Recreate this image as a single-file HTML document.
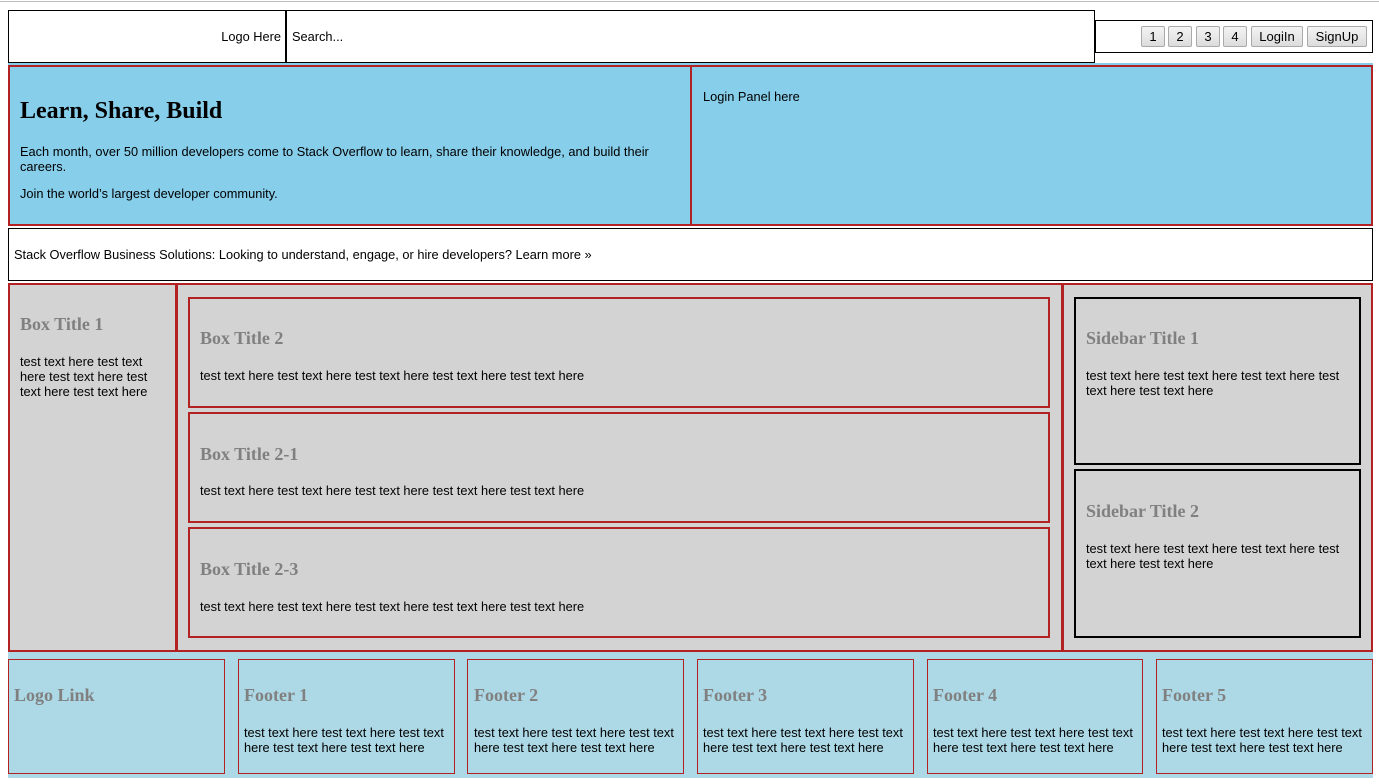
<!DOCTYPE html>
<html><head><meta charset="utf-8"><style>
body{margin:0;width:1379px;height:784px;position:relative;background:#fff;font-family:"Liberation Sans",Arial,sans-serif;font-size:12.8px;color:#000;overflow:hidden}
div{position:absolute;box-sizing:border-box}
.t{font-family:"Liberation Serif",serif;font-weight:bold;font-size:18px;color:#808080;position:absolute}
.p{position:absolute;line-height:15px}
.btn{top:26px;height:21px;border:1px solid #aaa;border-radius:2px;background:linear-gradient(#f4f4f4,#dcdcdc);font-size:13px;text-align:center;line-height:19px}
.g{background:#d3d3d3}
.rb{border:2px solid #b22222}
.fb{border:1px solid #b22222;top:659px;height:115px;width:217px}
</style></head><body>
<div style="left:0;top:1px;width:1379px;height:1px;background:#bbb"></div>
<div style="left:8px;top:10px;width:279px;height:53px;border:1px solid #000;border-right:2px solid #000"><span class="p" style="right:4px;top:18px">Logo Here</span></div>
<div style="left:286px;top:10px;width:809px;height:53px;border:1px solid #000;border-left:none"><span class="p" style="left:6px;top:18px">Search...</span></div>
<div style="left:1095px;top:20px;width:278px;height:33px;border:1px solid #000"></div>
<div class="btn" style="left:1141px;width:24px">1</div>
<div class="btn" style="left:1168px;width:24px">2</div>
<div class="btn" style="left:1196px;width:24px">3</div>
<div class="btn" style="left:1223px;width:24px">4</div>
<div class="btn" style="left:1251px;width:52px">LogiIn</div>
<div class="btn" style="left:1307px;width:60px">SignUp</div>
<div style="left:8px;top:63px;width:1365px;height:163px;background:#87ceeb"></div>
<div class="rb" style="left:8px;top:65px;width:684px;height:161px;background:#87ceeb">
<span style="position:absolute;left:10px;top:31px;font-family:'Liberation Serif',serif;font-weight:bold;font-size:24px">Learn, Share, Build</span>
<span class="p" style="left:10px;top:77px;width:650px">Each month, over 50 million developers come to Stack Overflow to learn, share their knowledge, and build their careers.</span>
<span class="p" style="left:10px;top:119px">Join the world’s largest developer community.</span></div>
<div class="rb" style="left:690px;top:65px;width:683px;height:161px;background:#87ceeb"><span class="p" style="left:11px;top:22px">Login Panel here</span></div>
<div style="left:8px;top:228px;width:1365px;height:53px;border:1px solid #000"><span class="p" style="left:5px;top:18px">Stack Overflow Business Solutions: Looking to understand, engage, or hire developers? Learn more »</span></div>
<div class="rb g" style="left:8px;top:283px;width:170px;height:369px;border-width:2px 3px 2px 2px"><span class="t" style="left:10px;top:29px">Box Title 1</span><span class="p" style="left:10px;top:69px;width:140px">test text here test text here test text here test text here test text here</span></div>
<div class="rb g" style="left:176px;top:283px;width:888px;height:369px;border-width:2px 3px 2px 2px"></div>
<div class="rb g" style="left:1062px;top:283px;width:311px;height:369px"></div>
<div class="rb" style="left:188px;top:297px;width:862px;height:111px"><span class="t" style="left:10px;top:29px">Box Title 2</span><span class="p" style="left:10px;top:69px">test text here test text here test text here test text here test text here</span></div>
<div class="rb" style="left:188px;top:412px;width:862px;height:111px"><span class="t" style="left:10px;top:30px">Box Title 2-1</span><span class="p" style="left:10px;top:69px">test text here test text here test text here test text here test text here</span></div>
<div class="rb" style="left:188px;top:527px;width:862px;height:111px"><span class="t" style="left:10px;top:30px">Box Title 2-3</span><span class="p" style="left:10px;top:70px">test text here test text here test text here test text here test text here</span></div>
<div style="left:1074px;top:297px;width:287px;height:168px;border:2px solid #000"><span class="t" style="left:10px;top:29px">Sidebar Title 1</span><span class="p" style="left:10px;top:69px;width:265px">test text here test text here test text here test text here test text here</span></div>
<div style="left:1074px;top:469px;width:287px;height:169px;border:2px solid #000"><span class="t" style="left:10px;top:30px">Sidebar Title 2</span><span class="p" style="left:10px;top:70px;width:265px">test text here test text here test text here test text here test text here</span></div>
<div style="left:8px;top:652px;width:1365px;height:126px;background:#add8e6"></div>
<div class="fb" style="left:8px"><span class="t" style="left:5px;top:25px">Logo Link</span></div>
<div class="fb" style="left:238px"><span class="t" style="left:5px;top:25px">Footer 1</span><span class="p" style="left:5px;top:65px;width:205px">test text here test text here test text here test text here test text here</span></div>
<div class="fb" style="left:467px"><span class="t" style="left:6px;top:25px">Footer 2</span><span class="p" style="left:6px;top:65px;width:205px">test text here test text here test text here test text here test text here</span></div>
<div class="fb" style="left:697px"><span class="t" style="left:5px;top:25px">Footer 3</span><span class="p" style="left:5px;top:65px;width:205px">test text here test text here test text here test text here test text here</span></div>
<div class="fb" style="left:927px;width:216px"><span class="t" style="left:5px;top:25px">Footer 4</span><span class="p" style="left:5px;top:65px;width:205px">test text here test text here test text here test text here test text here</span></div>
<div class="fb" style="left:1156px"><span class="t" style="left:5px;top:25px">Footer 5</span><span class="p" style="left:5px;top:65px;width:205px">test text here test text here test text here test text here test text here</span></div>
</body></html>
